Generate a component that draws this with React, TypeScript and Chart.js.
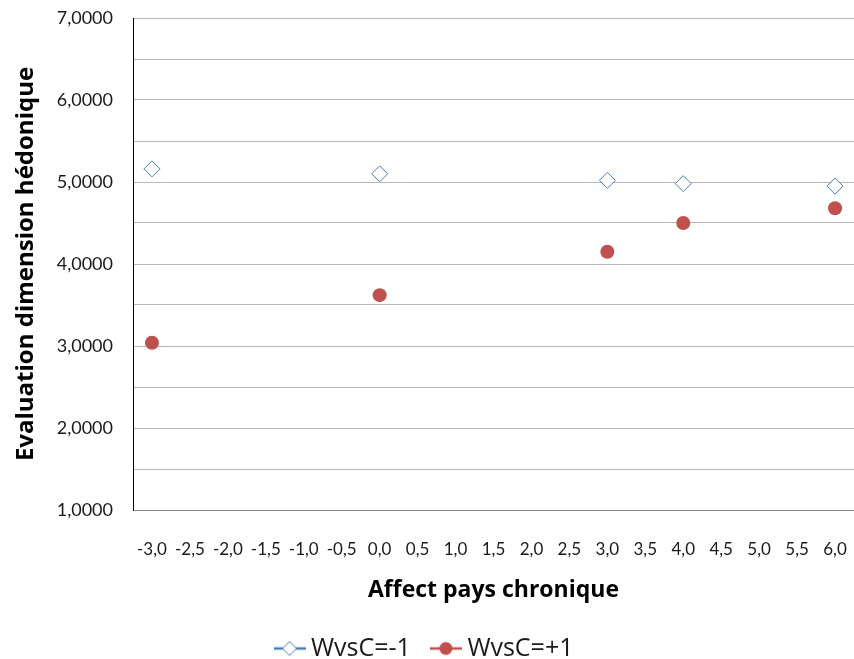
import React, { useEffect, useRef } from "react";
import { Chart, registerables } from "chart.js";

Chart.register(...registerables);

const xLabels = ["-3,0","-2,5","-2,0","-1,5","-1,0","-0,5","0,0","0,5","1,0","1,5","2,0","2,5","3,0","3,5","4,0","4,5","5,0","5,5","6,0"];
const xPoints = ["-3,0", "0,0", "3,0", "4,0", "6,0"];
const seriesNeg = [5.16, 5.10, 5.02, 4.98, 4.95];
const seriesPos = [3.04, 3.62, 4.15, 4.50, 4.68];
const seriesNames = ["WvsC=-1", "WvsC=+1"];

const FONT = "Lato, 'Open Sans', sans-serif";
const FONT2 = "'Open Sans', Lato, sans-serif";
const BLUE = "#4a7ebb";
const RED = "#c0504d";
const LEG_PAD = 26;
const BOTTOM_PAD = -12;

function legendIcon(kind: "diamond" | "circle", color: string) {
  const c = document.createElement("canvas");
  c.width = 32; c.height = 16;
  const g = c.getContext("2d")!;
  g.strokeStyle = color; g.lineWidth = 2.5;
  g.beginPath(); g.moveTo(0, 8); g.lineTo(32, 8); g.stroke();
  if (kind === "diamond") {
    g.fillStyle = "#fff"; g.lineWidth = 1;
    g.beginPath(); g.moveTo(16, 1); g.lineTo(23, 8); g.lineTo(16, 15); g.lineTo(9, 8); g.closePath();
    g.fill(); g.stroke();
  } else {
    g.fillStyle = color;
    g.beginPath(); g.arc(16, 8, 6.5, 0, Math.PI * 2); g.fill();
  }
  return c;
}

export default function App() {
  const ref = useRef<HTMLCanvasElement>(null);
  useEffect(() => {
    const icons = [legendIcon("diamond", BLUE), legendIcon("circle", RED)];
    const chart = new Chart(ref.current!, {
      type: "line",
      data: {
        labels: xLabels,
        datasets: [
          {
            label: seriesNames[0],
            data: xPoints.map((x, i) => ({ x, y: seriesNeg[i] })),
            showLine: false,
            clip: false,
            pointStyle: "rectRot",
            pointRadius: 8,
            pointBackgroundColor: "#ffffff",
            pointBorderColor: BLUE,
            pointBorderWidth: 1,
            borderColor: BLUE,
            backgroundColor: "#ffffff",
          },
          {
            label: seriesNames[1],
            data: xPoints.map((x, i) => ({ x, y: seriesPos[i] })),
            showLine: false,
            clip: false,
            pointStyle: "circle",
            pointRadius: 7,
            pointBackgroundColor: RED,
            pointBorderColor: RED,
            pointBorderWidth: 0,
            borderColor: RED,
            backgroundColor: RED,
          },
        ],
      },
      options: {
        animation: false,
        responsive: false,
        layout: { autoPadding: false, padding: { top: 18, right: 0, left: 0, bottom: BOTTOM_PAD } },
        plugins: {
          tooltip: { enabled: false },
          legend: {
            position: "bottom",
            labels: {
              usePointStyle: true,
              pointStyleWidth: 18,
              padding: LEG_PAD,
              color: "#1a1a1a",
              font: { family: FONT2, size: 25 },
              generateLabels: (ch: any) =>
                ch.data.datasets.map((d: any, i: number) => ({
                  text: d.label,
                  pointStyle: icons[i],
                  fillStyle: d.borderColor,
                  strokeStyle: d.borderColor,
                  lineWidth: 0,
                  hidden: false,
                  datasetIndex: i,
                  fontColor: "#1a1a1a",
                })),
            },
          },
        },
        scales: {
          x: {
            type: "category",
            offset: true,
            grid: { display: false, drawTicks: true, tickLength: 29 },
            border: { color: "#8c8c8c", width: 1 },
            ticks: {
              autoSkip: false,
              maxRotation: 0,
              minRotation: 0,
              padding: 0,
              color: "#1a1a1a",
              font: { family: FONT, size: 17 },
            },
            title: {
              display: true,
              text: "Affect pays chronique",
              color: "#000",
              font: { family: FONT2, size: 23, weight: "bold" },
              padding: { top: 0, bottom: 6 },
            },
            afterFit: (scale: any) => {
              const lh = scale.chart.legend ? scale.chart.legend.height : 0;
              scale.height = 659 - 510 - lh - BOTTOM_PAD;
              scale.paddingLeft = 0;
              scale.paddingRight = 0;
            },
          },
          y: {
            min: 1,
            max: 7,
            grid: { color: "#b8b8b8", lineWidth: 1, drawTicks: false },
            border: { color: "#000", width: 1 },
            ticks: {
              stepSize: 0.5,
              padding: 20,
              color: "#1a1a1a",
              font: { family: FONT, size: 18 },
              callback: (v: any) => (Number.isInteger(v) ? Number(v).toFixed(4).replace(".", ",") : ""),
            },
            title: {
              display: true,
              text: "Evaluation dimension hédonique",
              color: "#000",
              font: { family: FONT2, size: 24, weight: "bold" },
              padding: { top: 12, bottom: 0 },
            },
            afterFit: (scale: any) => {
              scale.width = 133;
              scale.paddingTop = 0;
              scale.paddingBottom = 0;
            },
          },
        },
      },
    });
    return () => chart.destroy();
  }, []);
  return (
    <div style={{ position: "absolute", left: 0, top: 0, width: 854, height: 659, background: "#fff" }}>
      <canvas ref={ref} width={854} height={659} style={{ width: 854, height: 659, display: "block" }} />
    </div>
  );
}
